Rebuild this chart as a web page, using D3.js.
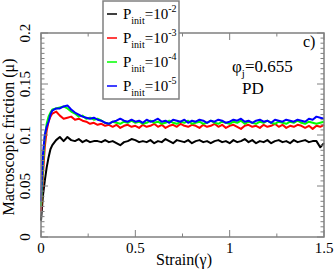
<!DOCTYPE html>
<html><head><meta charset="utf-8">
<script src="https://cdn.jsdelivr.net/npm/d3@7"></script>
<style>body{margin:0;background:#fff}svg{display:block}text{font-family:"Liberation Serif","DejaVu Serif",serif;fill:#000}</style>
</head><body><svg id="c" width="335" height="271"></svg>
<script>
const strain = [0,0.005,0.01,0.02,0.03,0.04,0.05,0.06,0.08,0.10,0.12,0.14,0.16,0.18,0.20,0.22,0.24,0.26,0.28,0.30,
0.32,0.34,0.36,0.38,0.40,0.42,0.44,0.46,0.48,0.50,
0.52,0.54,0.56,0.58,0.60,0.62,0.64,0.66,0.68,0.70,
0.72,0.74,0.76,0.78,0.80,0.82,0.84,0.86,0.88,0.90,
0.92,0.94,0.96,0.98,1.00,1.02,1.04,1.06,1.08,1.10,
1.12,1.14,1.16,1.18,1.20,1.22,1.24,1.26,1.28,1.30,
1.32,1.34,1.36,1.38,1.40,1.42,1.44,1.46,1.48,1.50];
const seriesNames = ["-2","-3","-4","-5"];
const seriesColors = ["#000000","#ff0000","#00ff00","#0000ff"];
const muP2 = [0.016,0.028,0.040,0.055,0.068,0.078,0.086,0.090,0.095,0.098,0.094,0.098,0.095,0.094,0.096,0.093,0.095,0.093,0.094,0.094,
0.093,0.095,0.093,0.094,0.092,0.090,0.093,0.094,0.096,0.095,
0.093,0.094,0.093,0.095,0.092,0.094,0.093,0.096,0.094,0.092,
0.095,0.094,0.093,0.095,0.092,0.094,0.095,0.093,0.094,0.092,
0.094,0.095,0.093,0.094,0.092,0.095,0.093,0.094,0.096,0.093,
0.095,0.092,0.094,0.093,0.095,0.092,0.094,0.095,0.093,0.094,
0.092,0.095,0.093,0.094,0.095,0.093,0.094,0.094,0.088,0.092];
const muP3 = [0.025,0.040,0.060,0.088,0.104,0.113,0.118,0.121,0.123,0.119,0.116,0.117,0.118,0.115,0.116,0.114,0.113,0.111,0.112,0.110,
0.111,0.109,0.110,0.108,0.110,0.107,0.109,0.110,0.108,0.109,
0.107,0.110,0.108,0.109,0.111,0.108,0.110,0.107,0.109,0.110,
0.108,0.111,0.109,0.108,0.110,0.109,0.107,0.110,0.108,0.109,
0.111,0.108,0.110,0.107,0.109,0.110,0.108,0.106,0.109,0.110,
0.108,0.109,0.107,0.110,0.108,0.109,0.111,0.108,0.110,0.107,
0.109,0.108,0.110,0.109,0.107,0.109,0.106,0.109,0.108,0.110];
const muP4 = [0.030,0.048,0.070,0.098,0.111,0.118,0.122,0.125,0.126,0.127,0.128,0.126,0.123,0.121,0.118,0.119,0.116,0.117,0.115,0.116,
0.114,0.112,0.111,0.113,0.112,0.111,0.113,0.112,0.114,0.112,
0.113,0.111,0.112,0.114,0.112,0.113,0.111,0.112,0.114,0.112,
0.111,0.113,0.112,0.114,0.111,0.112,0.113,0.111,0.112,0.114,
0.112,0.111,0.113,0.112,0.111,0.113,0.112,0.114,0.111,0.113,
0.112,0.111,0.113,0.112,0.114,0.112,0.111,0.113,0.112,0.111,
0.113,0.112,0.114,0.112,0.111,0.113,0.112,0.111,0.112,0.113];
const muP5 = [0.035,0.060,0.080,0.100,0.108,0.113,0.120,0.124,0.126,0.126,0.128,0.129,0.125,0.122,0.120,0.118,0.117,0.116,0.117,0.115,
0.114,0.112,0.111,0.113,0.114,0.116,0.114,0.113,0.115,0.113,
0.114,0.112,0.115,0.113,0.114,0.116,0.113,0.114,0.112,0.115,
0.114,0.113,0.115,0.112,0.114,0.113,0.115,0.114,0.112,0.114,
0.113,0.115,0.114,0.112,0.113,0.115,0.114,0.116,0.113,0.114,
0.112,0.114,0.115,0.113,0.114,0.112,0.115,0.114,0.113,0.115,
0.114,0.113,0.115,0.114,0.113,0.116,0.115,0.118,0.117,0.116];
const xTicks = [0,0.5,1,1.5];
const xTickLabels = ["0","0.5","1","1.5"];
const yTicks = [0,0.05,0.1,0.15,0.2];
const yTickLabels = ["0","0.05","0.1","0.15","0.2"];

const L=41,R=324,T=33,B=237;
const svg=d3.select("#c");
const x=d3.scaleLinear().domain([0,1.5]).range([L,R]);
const y=d3.scaleLinear().domain([0,0.2]).range([B,T]);
const gray="#808080";

// data lines
const allSeries=[muP2,muP3,muP4,muP5];
const line=d3.line().x(d=>x(d[0])).y(d=>y(d[1]));
[0,1,2,3].forEach(i=>{
  const pts=strain.map((s,j)=>[s,allSeries[i][j]]).filter(p=>p[1]!==undefined);
  svg.append("path").attr("d",line(pts)).attr("fill","none")
    .attr("stroke",seriesColors[i]).attr("stroke-width",2).attr("stroke-linejoin","round");
});

// frame
svg.append("rect").attr("x",L).attr("y",T).attr("width",R-L).attr("height",B-T)
  .attr("fill","none").attr("stroke",gray).attr("stroke-width",1.5);

// ticks (inside, mirrored)
const tk=svg.append("g").attr("stroke",gray).attr("stroke-width",1);
const xMinor=[0.25,0.75,1.25];
xTicks.forEach(v=>{tk.append("line").attr("x1",x(v)).attr("x2",x(v)).attr("y1",B).attr("y2",B-7);
  tk.append("line").attr("x1",x(v)).attr("x2",x(v)).attr("y1",T).attr("y2",T+7);});
xMinor.forEach(v=>{tk.append("line").attr("x1",x(v)).attr("x2",x(v)).attr("y1",B).attr("y2",B-3.5);
  tk.append("line").attr("x1",x(v)).attr("x2",x(v)).attr("y1",T).attr("y2",T+3.5);});
y.ticks(40).forEach(v=>{
  const major=yTicks.some(t=>Math.abs(t-v)<1e-9);
  const len=major?7:3.5;
  tk.append("line").attr("x1",L).attr("x2",L+len).attr("y1",y(v)).attr("y2",y(v));
  tk.append("line").attr("x1",R).attr("x2",R-len).attr("y1",y(v)).attr("y2",y(v));
});

// tick labels
xTicks.forEach((v,i)=>svg.append("text").attr("x",x(v)).attr("y",253).attr("text-anchor","middle")
  .attr("font-size",15).text(xTickLabels[i]));
yTicks.forEach((v,i)=>svg.append("text").attr("transform",`translate(30,${y(v)}) rotate(-90)`)
  .attr("text-anchor","middle").attr("font-size",15).text(yTickLabels[i]));

// axis titles
svg.append("text").attr("x",184).attr("y",265).attr("text-anchor","middle").attr("font-size",16).text("Strain(γ)");
svg.append("text").attr("transform","translate(14,137) rotate(-90)").attr("text-anchor","middle")
  .attr("font-size",16).text("Macroscopic friction (μ)");

// annotations
svg.append("text").attr("x",303).attr("y",47).attr("font-size",16).text("c)");
const phi=svg.append("text").attr("x",232).attr("y",72).attr("font-size",17);
phi.append("tspan").text("φ");
phi.append("tspan").attr("dy",5).attr("font-size",11).text("j");
phi.append("tspan").attr("dy",-5).text("=0.655");
svg.append("text").attr("x",242).attr("y",94).attr("font-size",17).text("PD");

// legend
svg.append("rect").attr("x",103).attr("y",1).attr("width",76).attr("height",98)
  .attr("fill","#fff").attr("stroke",gray).attr("stroke-width",1.5);
seriesNames.forEach((n,i)=>{
  const ly=14+24*i;
  svg.append("line").attr("x1",107).attr("x2",117).attr("y1",ly).attr("y2",ly)
    .attr("stroke",seriesColors[i]).attr("stroke-width",1.5);
  const t=svg.append("text").attr("x",123).attr("y",ly+5).attr("font-size",15);
  t.append("tspan").text("P");
  t.append("tspan").attr("dy",5).attr("font-size",10).text("init");
  t.append("tspan").attr("dy",-5).text("=10");
  t.append("tspan").attr("dy",-7).attr("font-size",10).text(n);
});
</script></body></html>
